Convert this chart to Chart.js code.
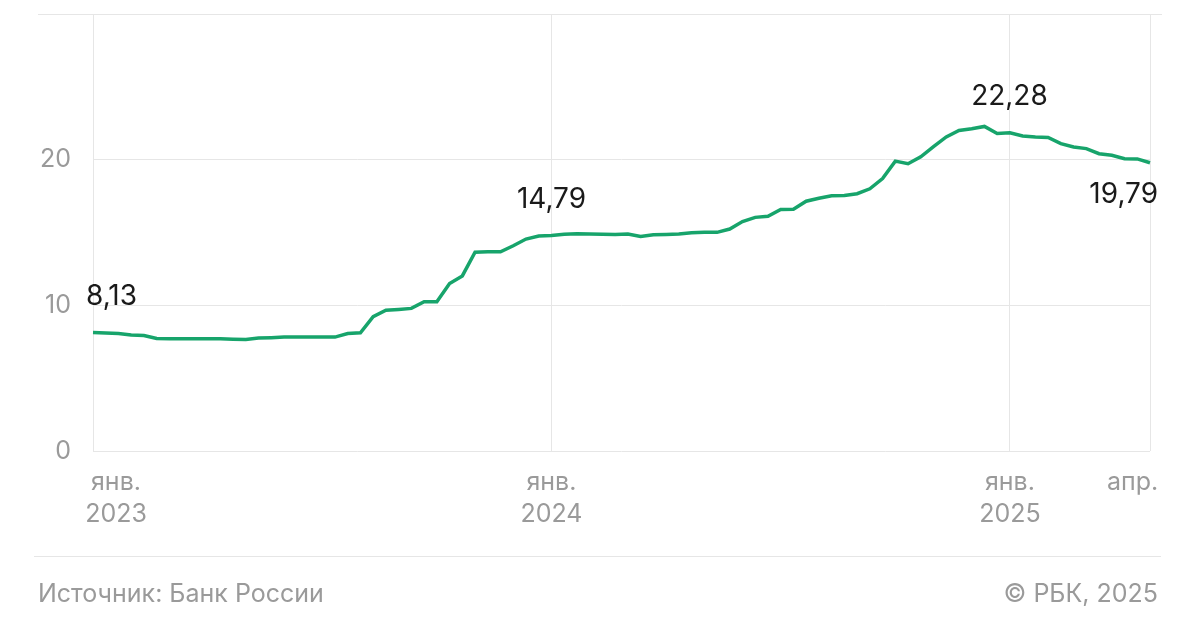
<!DOCTYPE html>
<html lang="ru">
<head>
<meta charset="utf-8">
<script src="https://cdn.jsdelivr.net/npm/chart.js@4.4.1/dist/chart.umd.min.js"></script>
<style>
  body { margin: 0; background: #fff; font-family: Inter, sans-serif; }
  #wrap { position: relative; width: 1200px; height: 628px; overflow: hidden; }
  canvas { position: absolute; left: 0; top: 0; }
  .rule { position: absolute; height: 1px; background: #e6e6e6; }
  .foot { position: absolute; top: 578px; font-size: 25px; line-height: 30px; color: #9a9a9a; }
</style>
</head>
<body>
<div id="wrap">
  <canvas id="myChart" width="1200" height="628"></canvas>
  <div class="rule" style="left:38px;top:14px;width:1124px"></div>
  <div class="rule" style="left:34px;top:556px;width:1127px"></div>
  <div class="foot" style="left:38px">Источник: Банк России</div>
  <div class="foot" style="right:42px">© РБК, 2025</div>
</div>
<script>
// DATA (one value per ten-day period, Jan 2023 - Apr 2025)
const rates = [
  8.13, 8.10, 8.07, 7.97, 7.93, 7.72, 7.70, 7.70, 7.70, 7.70,
  7.70, 7.68, 7.66, 7.75, 7.78, 7.82, 7.82, 7.82, 7.82, 7.82,
  8.07, 8.11, 9.22, 9.66, 9.72, 9.79, 10.25, 10.25, 11.50, 12.02,
  13.65, 13.68, 13.68, 14.09, 14.55, 14.76, 14.79, 14.88, 14.92, 14.90,
  14.88, 14.86, 14.90, 14.72, 14.85, 14.87, 14.90, 14.98, 15.01, 15.01,
  15.24, 15.75, 16.04, 16.12, 16.58, 16.60, 17.15, 17.35, 17.52, 17.54,
  17.66, 18.00, 18.70, 19.90, 19.72, 20.20, 20.90, 21.56, 22.00, 22.12,
  22.28, 21.79, 21.84, 21.62, 21.55, 21.52, 21.10, 20.87, 20.76, 20.41,
  20.30, 20.07, 20.05, 19.79
];
const tickIndex = [0, 36, 72, 81];
const tickLabels = [['янв.', '2023'], ['янв.', '2024'], ['янв.', '2025'], ['апр.']];
const gridIndex = [0, 36, 72, 83];
const yTicks = [0, 10, 20, 30];
const calloutIndex = [0, 36, 70, 83];

// labels under the axis and value callouts
const labelPlugin = {
  id: 'labels',
  afterDatasetsDraw(chart) {
    const ctx = chart.ctx;
    const xs = chart.scales.x;
    const ys = chart.scales.y;
    ctx.save();
    ctx.font = '25px Inter';
    ctx.fillStyle = '#9a9a9a';
    ctx.textAlign = 'center';
    ctx.textBaseline = 'middle';
    tickIndex.forEach(function(v, k) {
      let x = xs.getPixelForValue(v);
      if (k === 0) x += 23;
      if (k === 3) x += 8;
      tickLabels[k].forEach(function(line, j) {
        ctx.fillText(line, x, ys.bottom + 31 + j * 32);
      });
    });

    ctx.font = '28px Inter';
    ctx.fillStyle = '#1a1a1a';
    calloutIndex.forEach(function(i, k) {
      const x = xs.getPixelForValue(i);
      const y = ys.getPixelForValue(rates[i]);
      const text = rates[i].toFixed(2).replace('.', ',');
      if (k === 0) {
        ctx.textAlign = 'left';
        ctx.fillText(text, x - 7, y - 36);
      } else if (k === 1) {
        ctx.textAlign = 'center';
        ctx.fillText(text, x, y - 36);
      } else if (k === 2) {
        ctx.textAlign = 'center';
        ctx.fillText(text, x + 25, y - 30);
      } else {
        ctx.textAlign = 'right';
        ctx.fillText(text, x + 8, y + 32);
      }
    });
    ctx.restore();
  }
};

const ctx = document.getElementById('myChart').getContext('2d');
const myChart = new Chart(ctx, {
  type: 'line',
  data: {
    datasets: [{
      data: rates.map(function(v, i) { return { x: i, y: v }; }),
      borderColor: '#17a46b',
      borderWidth: 3.5,
      pointRadius: 0,
      tension: 0,
      fill: false,
      clip: false
    }]
  },
  options: {
    responsive: false,
    animation: false,
    layout: { padding: { top: 14, right: 50, bottom: 177, left: 0 } },
    plugins: { legend: { display: false }, tooltip: { enabled: false } },
    scales: {
      x: {
        type: 'linear',
        min: 0,
        max: rates.length - 1,
        afterBuildTicks: function(scale) {
          scale.ticks = gridIndex.map(function(v) { return { value: v }; });
        },
        afterFit: function(scale) { scale.height = 0; },
        ticks: { display: false },
        grid: { color: '#e6e6e6', lineWidth: 1, drawTicks: false },
        border: { display: false }
      },
      y: {
        min: 0,
        max: 30,
        afterBuildTicks: function(scale) {
          scale.ticks = yTicks.map(function(v) { return { value: v }; });
        },
        afterFit: function(scale) {
          scale.width = 93;
          scale.paddingTop = 0;
          scale.paddingBottom = 0;
        },
        ticks: {
          padding: 22,
          color: '#9a9a9a',
          font: { family: 'Inter', size: 25 },
          callback: function(value) { return value === 30 ? '' : value; }
        },
        grid: { color: '#e6e6e6', lineWidth: 1, drawTicks: false },
        border: { display: false }
      }
    }
  },
  plugins: [labelPlugin]
});
</script>
</body>
</html>
